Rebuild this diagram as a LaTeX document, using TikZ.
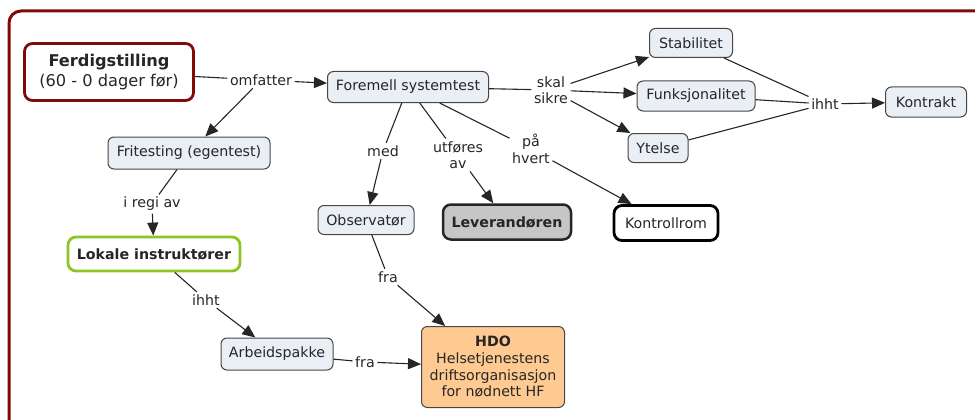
\documentclass[tikz,border=0pt]{standalone}
\usepackage{fontspec}
\setmainfont{DejaVu Sans}
\usetikzlibrary{arrows.meta}
\definecolor{framered}{RGB}{128,10,10}
\definecolor{cfill}{RGB}{233,239,244}
\definecolor{cborder}{RGB}{70,70,70}
\definecolor{txt}{RGB}{38,38,38}
\definecolor{lgreen}{RGB}{141,198,36}
\definecolor{levgray}{RGB}{198,198,198}
\definecolor{hdofill}{RGB}{255,202,146}
\tikzset{
  concept/.style={draw=cborder, fill=cfill, rounded corners=6pt, line width=1pt,
    text=txt, font=\fontsize{14.2}{16}\selectfont, align=center, inner sep=0pt},
  lab/.style={text=txt, font=\fontsize{14.2}{16.5}\selectfont, align=center, inner sep=2.5pt},
  conn/.style={draw=txt, line width=1.1pt},
  arr/.style={conn, -{Triangle[length=13pt,width=11pt]}},
}
\begin{document}
\begin{tikzpicture}[x=1pt,y=-1pt]
\useasboundingbox (0,0) rectangle (975,420);
\clip (0,0) rectangle (975,420);
\draw[framered, line width=3pt, rounded corners=12pt] (9,11) rectangle (1010,460);

% concepts
\node[concept, draw=framered, fill=white, line width=2.8pt, rounded corners=8pt,
  minimum width=169pt, minimum height=57pt, font=\fontsize{16.2}{19.5}\selectfont]
  (ferd) at (109,72) {\textbf{Ferdigstilling}\\(60 - 0 dager før)};
\node[concept, minimum width=161pt, minimum height=31pt] (fore) at (408,87) {Foremell systemtest};
\node[concept, minimum width=162pt, minimum height=32pt] (fri) at (189,153) {Fritesting (egentest)};
\node[concept, draw=lgreen, fill=white, line width=2.8pt, rounded corners=8pt,
  minimum width=172pt, minimum height=34pt] (lok) at (154,254) {\textbf{Lokale instruktører}};
\node[concept, minimum width=112pt, minimum height=32pt] (arb) at (277,354) {Arbeidspakke};
\node[concept, fill=hdofill, minimum width=143pt, minimum height=81pt,
  font=\fontsize{14.2}{16.7}\selectfont] (hdo) at (493,367)
  {\textbf{HDO}\\Helsetjenestens\\driftsorganisasjon\\for nødnett HF};
\node[concept, minimum width=96pt, minimum height=29pt] (obs) at (366,220) {Observatør};
\node[concept, fill=levgray, draw=black!85, line width=2.5pt, rounded corners=8pt,
  minimum width=128pt, minimum height=35pt] (lev) at (507,222) {\textbf{Leverandøren}};
\node[concept, fill=white, draw=black, line width=2.8pt, rounded corners=8pt,
  minimum width=104pt, minimum height=35pt] (kon) at (666,223) {Kontrollrom};
\node[concept, minimum width=83pt, minimum height=29pt] (stab) at (691,43) {Stabilitet};
\node[concept, minimum width=118pt, minimum height=30pt] (funk) at (696,96) {Funksjonalitet};
\node[concept, minimum width=60pt, minimum height=29pt] (ytel) at (658,148) {Ytelse};
\node[concept, minimum width=81pt, minimum height=30pt] (kontr) at (926,102) {Kontrakt};

% linking phrases
\node[lab] (omf) at (261,80) {omfatter};
\node[lab] (regi) at (152,204) {i regi av};
\node[lab] (ihht1) at (206,300) {ihht};
\node[lab] (fra1) at (365,362) {fra};
\node[lab] (med) at (383,151) {med};
\node[lab] (fra2) at (388,277) {fra};
\node[lab] (utf) at (458,155) {utføres\\av};
\node[lab] (paa) at (531,149) {på\\hvert};
\node[lab] (skal) at (551,90) {skal\\sikre};
\node[lab] (ihht2) at (825,104) {ihht};

% connectors
\draw[conn] (ferd) -- (omf);
\draw[arr] (omf) -- (fore);
\draw[arr] (omf) -- (fri);
\draw[conn] (fri) -- (regi);
\draw[arr] (regi) -- (lok);
\draw[conn] (lok) -- (ihht1);
\draw[arr] (ihht1) -- (arb);
\draw[conn] (arb) -- (fra1);
\draw[arr] (fra1) -- (hdo);
\draw[conn] (fore) -- (med);
\draw[arr] (med) -- (obs);
\draw[conn] (obs) -- (fra2);
\draw[arr] (fra2) -- (hdo);
\draw[conn] (fore) -- (utf);
\draw[arr] (utf) -- (lev);
\draw[conn] (fore) -- (paa);
\draw[arr] (paa) -- (kon);
\draw[conn] (fore) -- (skal);
\draw[arr] (skal) -- (stab);
\draw[arr] (skal) -- (funk);
\draw[arr] (skal) -- (ytel);
\draw[conn] (stab) -- (ihht2);
\draw[conn] (funk) -- (ihht2);
\draw[conn] (ytel) -- (ihht2);
\draw[arr] (ihht2) -- (kontr);
\end{tikzpicture}
\end{document}
